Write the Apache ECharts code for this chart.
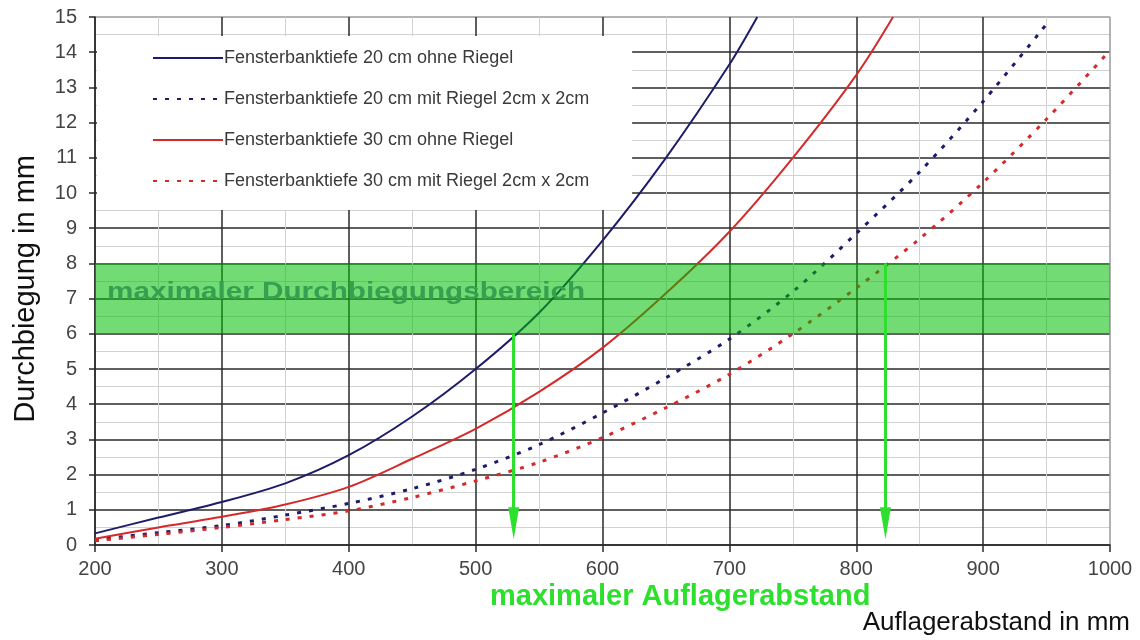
<!DOCTYPE html>
<html><head><meta charset="utf-8">
<script src="https://cdn.jsdelivr.net/npm/echarts@6/dist/echarts.min.js"></script>
<style>html,body{margin:0;padding:0;background:#fff}#c{width:1140px;height:640px}</style>
</head><body><div id="c"></div>
<script>
// ---- data ----
const seriesNames = [
  'Fensterbanktiefe 20 cm ohne Riegel',
  'Fensterbanktiefe 20 cm mit Riegel 2cm x 2cm',
  'Fensterbanktiefe 30 cm ohne Riegel',
  'Fensterbanktiefe 30 cm mit Riegel 2cm x 2cm'
];
const blueSolidX = [200,250,300,350,400,450,500,550,600,650,700,722];
const blueSolidY = [0.33,0.78,1.22,1.75,2.55,3.65,5.0,6.6,8.65,11.0,13.65,15.0];
const blueDotX = [200,250,300,350,400,450,500,550,600,650,700,750,800,850,900,950];
const blueDotY = [0.15,0.35,0.55,0.85,1.18,1.6,2.15,2.85,3.75,4.75,5.85,7.2,8.85,10.6,12.6,14.8];
const redSolidX = [200,250,300,350,400,450,500,550,600,650,700,750,800,829];
const redSolidY = [0.18,0.5,0.8,1.15,1.65,2.45,3.3,4.35,5.6,7.15,8.9,11.0,13.35,15.0];
const redDotX = [200,250,300,350,400,450,500,550,600,650,700,750,800,850,900,950,1000];
const redDotY = [0.12,0.3,0.5,0.72,0.97,1.35,1.82,2.35,3.05,3.9,4.85,6.0,7.3,8.7,10.3,12.1,14.05];
const bandRange = [6, 8];
const arrowX = [530, 823];
const arrowTop = [6, 8];
const arrowBottom = 0.62;
const bandText = 'maximaler Durchbiegungsbereich';
const arrowText = 'maximaler Auflagerabstand';
const xTitle = 'Auflagerabstand in mm';
const yTitle = 'Durchbiegung in mm';

const pairs = (xs, ys) => xs.map((x, i) => [x, ys[i]]);
const FONT = '"Liberation Sans", Arial, sans-serif';
const NAVY = '#1c1c6b';
const RED = '#d42a2a';
const DARK = '#2a2a2a';
const LIGHT = '#d2d2d2';

const chart = echarts.init(document.getElementById('c'), null, {renderer: 'canvas'});

function lineSeries(name, data, color, dotted) {
  return {
    name, type: 'line', data, smooth: 0.3, symbol: 'none', showSymbol: false, z: 2,
    lineStyle: dotted ? {color, width: 3, type: [4, 8]} : {color, width: 2},
    itemStyle: {color}
  };
}

const yLineColors = Array.from({length: 16}, (_, i) => i === 15 ? '#9a9a9a' : DARK);
const xLineColors = Array.from({length: 9}, (_, i) => i === 8 ? '#9a9a9a' : DARK);

chart.setOption({
  animation: false,
  backgroundColor: '#fff',
  textStyle: {fontFamily: FONT},
  grid: {left: 95, right: 30, top: 17, bottom: 95},
  legend: {
    data: seriesNames.map(n => ({name: n, itemStyle: {opacity: 0}})),
    orient: 'vertical', left: 97, top: 36,
    padding: [13, 43, 20, 55],
    backgroundColor: '#fff',
    itemWidth: 70, itemHeight: 20, itemGap: 23,
    itemStyle: {opacity: 0},
    textStyle: {fontSize: 18, color: '#3a3a3a', fontFamily: FONT, padding: [0, 0, 0, -4]},
    z: 1
  },
  xAxis: {
    type: 'value', min: 200, max: 1000, interval: 100,
    axisLine: {show: true, lineStyle: {color: DARK, width: 1.5}},
    axisTick: {show: true, length: 7, lineStyle: {color: DARK, width: 1.5}},
    axisLabel: {fontSize: 20, color: '#444', margin: 14, fontFamily: FONT, formatter: v => String(v)},
    splitLine: {show: true, lineStyle: {color: xLineColors, width: 1.5}},
    minorTick: {show: false, splitNumber: 2},
    minorSplitLine: {show: true, lineStyle: {color: LIGHT, width: 1}}
  },
  yAxis: {
    type: 'value', min: 0, max: 15, interval: 1,
    axisLine: {show: true, lineStyle: {color: DARK, width: 1.5}},
    axisTick: {show: true, length: 6, lineStyle: {color: DARK, width: 1.5}},
    axisLabel: {fontSize: 20, color: '#444', margin: 18, fontFamily: FONT},
    splitLine: {show: true, lineStyle: {color: yLineColors, width: 1.5}},
    minorTick: {show: false, splitNumber: 2},
    minorSplitLine: {show: true, lineStyle: {color: LIGHT, width: 1}}
  },
  series: [
    lineSeries(seriesNames[0], pairs(blueSolidX, blueSolidY), NAVY, false),
    lineSeries(seriesNames[1], pairs(blueDotX, blueDotY), NAVY, true),
    lineSeries(seriesNames[2], pairs(redSolidX, redSolidY), RED, false),
    lineSeries(seriesNames[3], pairs(redDotX, redDotY), RED, true),
    {
      name: 'band', type: 'line', data: [], z: 3,
      markArea: {
        silent: true, z: 3,
        itemStyle: {color: 'rgba(0,190,0,0.55)'},
        data: [[{yAxis: bandRange[0]}, {yAxis: bandRange[1]}]]
      },
      markLine: {
        silent: true, z: 6,
        symbol: ['none', 'triangle'],
        symbolSize: [0, 0],
        label: {show: false},
        lineStyle: {color: '#2ee02e', width: 3, type: 'solid'},
        data: arrowX.map((x, i) => [
          {coord: [x, arrowTop[i]], symbol: 'none'},
          {coord: [x, arrowBottom], symbol: 'triangle', symbolSize: [11, 32]}
        ])
      }
    }
  ],
  graphic: [
    {type: 'text', left: 107, top: 281, z: 20, scaleX: 1.29,
      style: {text: bandText, fontSize: 23, fontWeight: 'bold', fill: '#34a050', fontFamily: FONT}},
    {type: 'text', left: 490, top: 582, z: 20,
      style: {text: arrowText, fontSize: 29, fontWeight: 'bold', fill: '#2ee02e', fontFamily: FONT}},
    {type: 'text', right: 10, top: 610, z: 20,
      style: {text: xTitle, fontSize: 26, fill: '#111', fontFamily: FONT}},
    {type: 'text', left: 11, top: 155, z: 20, rotation: Math.PI / 2,
      style: {text: yTitle, fontSize: 29, fill: '#111', fontFamily: FONT}}
  ]
});
</script>
</body></html>
